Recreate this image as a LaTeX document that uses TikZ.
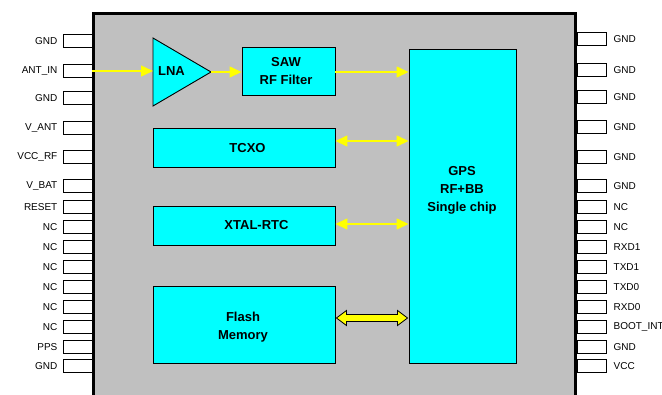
\documentclass[tikz,border=0pt]{standalone}
\usepackage{fontspec}
\setmainfont{Liberation Sans}
\usetikzlibrary{arrows.meta,calc}
\definecolor{chipgray}{HTML}{C0C0C0}
\definecolor{blkcyan}{HTML}{00FFFF}
\definecolor{sigyellow}{HTML}{FFFF00}
\tikzset{
  pinbox/.style={draw=black,fill=white,line width=0.9pt,minimum width=29pt,minimum height=13pt,inner sep=0pt},
  pinlbl/.style={font=\fontsize{10}{12}\selectfont,inner sep=0pt},
  block/.style={draw=black,fill=blkcyan,line width=0.9pt,inner sep=0pt},
  blocktext/.style={font=\fontsize{13}{18}\selectfont\bfseries,align=center,inner sep=0pt},
  sig/.style={draw=sigyellow,line width=1.4pt,-{Triangle[length=12pt,width=11pt,fill=sigyellow]}},
  dsig/.style={draw=sigyellow,line width=1.4pt,{Triangle[length=12pt,width=11pt,fill=sigyellow]}-{Triangle[length=12pt,width=11pt,fill=sigyellow]}},
  fat/.style={draw=black,fill=sigyellow,line width=0.8pt,line join=miter}
}
\begin{document}
\begin{tikzpicture}[x=1pt,y=-1pt]
\useasboundingbox (0,0) rectangle (662,394);
\fill[white] (0,0) rectangle (662,394);
% chip body
\fill[chipgray] (92,12) rectangle (577,400);
\draw[line width=3pt] (93.5,400) -- (93.5,13.5) -- (575.5,13.5) -- (575.5,400);
% left pins
\foreach \y/\t [count=\i] in {41/GND,71/ANT\_IN,98/GND,128/V\_ANT,157/VCC\_RF,186/V\_BAT,207/RESET,227/NC,247/NC,267/NC,287/NC,307/NC,327/NC,347/PPS,366/GND}{
  \node[pinbox,label={[pinlbl,label distance=5pt]left:\t}] (L\i) at (77.5,\y) {};
}
% right pins
\foreach \y/\t [count=\i] in {39/GND,70/GND,97/GND,127/GND,157/GND,186/GND,207/NC,227/NC,247/RXD1,267/TXD1,287/TXD0,307/RXD0,327/BOOT\_INT,347/GND,366/VCC}{
  \node[pinbox,label={[pinlbl,label distance=7pt]right:\t}] (R\i) at (591.5,\y) {};
}
% LNA
\draw[block] (153,38) -- (211,72) -- (153,106) -- cycle;
\node[blocktext] (lna) at (171.5,71) {LNA};
\coordinate (lnain) at (153,71);
\coordinate (lnaout) at (211,72);
% blocks
\node[block,minimum width=93pt,minimum height=48pt] (saw) at (288.5,71) {};
\node[blocktext] (sawtext) at (286,71) {SAW\\RF Filter};
\node[block,minimum width=182pt,minimum height=39pt] (tcxo) at (244,147.5) {};
\node[blocktext] (tcxotext) at (247.5,148) {TCXO};
\node[block,minimum width=182pt,minimum height=39pt] (xtal) at (244,225.5) {};
\node[blocktext] (xtaltext) at (256.5,225) {XTAL-RTC};
\node[block,minimum width=182pt,minimum height=77pt] (flash) at (244,324.5) {};
\node[blocktext] (flashtext) at (243,327.5) {Flash\\Memory};
\node[block,minimum width=107pt,minimum height=314pt] (gps) at (462.5,206) {};
\node[blocktext] (gpstext) at (462,190) {GPS\\RF+BB\\Single chip};
% connectors
\draw[sig] (L2.east) -- (lnain);
\draw[sig] (lnaout) -- (saw.west |- lnaout);
\draw[sig] ([yshift=-1pt]saw.east) -- ([yshift=-1pt]saw.east -| gps.west);
\draw[dsig] ([yshift=6.5pt]tcxo.east) -- ([yshift=6.5pt]tcxo.east -| gps.west);
\draw[dsig] ([yshift=1.5pt]xtal.east) -- ([yshift=1.5pt]xtal.east -| gps.west);
\coordinate (fa) at ([xshift=1pt,yshift=6.5pt]flash.east);
\coordinate (fb) at ([xshift=-1pt,yshift=6.5pt]flash.east -| gps.west);
\draw[fat] (fa) -- ++(10,-7.5) -- ++(0,4) -- ($(fb)+(-10,-3.5)$) -- ++(0,-4) -- (fb) -- ++(-10,7.5) -- ++(0,-4) -- ($(fa)+(10,3.5)$) -- ++(0,4) -- cycle;
\end{tikzpicture}
\end{document}
